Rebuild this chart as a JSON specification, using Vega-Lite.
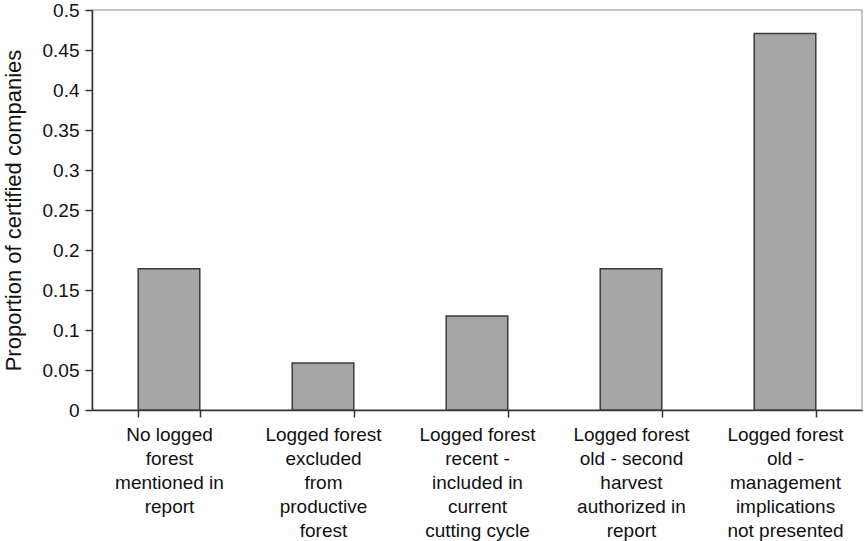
{
  "$schema": "https://vega.github.io/schema/vega-lite/v6.json",
  "width": 770,
  "height": 400,
  "autosize": "none",
  "padding": {"left": 92, "top": 10, "right": 2, "bottom": 131},
  "background": "white",
  "config": {
    "font": "Liberation Sans",
    "view": {"stroke": "#b3b3b3", "strokeWidth": 1.5}
  },
  "data": {
    "values": [
      {"category": "No logged|forest|mentioned in|report", "proportion": 0.1765, "order": 1},
      {"category": "Logged forest|excluded|from|productive|forest", "proportion": 0.0588, "order": 2},
      {"category": "Logged forest|recent -|included in|current|cutting cycle", "proportion": 0.1176, "order": 3},
      {"category": "Logged forest|old - second|harvest|authorized in|report", "proportion": 0.1765, "order": 4},
      {"category": "Logged forest|old -|management|implications|not presented", "proportion": 0.4706, "order": 5}
    ]
  },
  "mark": {"type": "bar", "fill": "#a6a6a6", "stroke": "#3c3c3c", "strokeWidth": 1.5},
  "encoding": {
    "x": {
      "field": "category",
      "type": "nominal",
      "sort": {"field": "order"},
      "scale": {"paddingInner": 0.6, "paddingOuter": 0.3},
      "axis": {
        "title": null,
        "labelAngle": 0,
        "labelExpr": "split(datum.label, '|')",
        "labelFontSize": 19,
        "labelLineHeight": 24,
        "labelColor": "#111",
        "labelPadding": 8,
        "labelLimit": 200,
        "tickBand": "extent",
        "tickSize": 7,
        "tickColor": "#333",
        "tickWidth": 1.5,
        "domainColor": "#333",
        "domainWidth": 1.5
      }
    },
    "y": {
      "field": "proportion",
      "type": "quantitative",
      "scale": {"domain": [0, 0.5]},
      "axis": {
        "title": "Proportion of certified companies",
        "titleFontSize": 22,
        "titleFontWeight": "normal",
        "titleColor": "#111",
        "titlePadding": 17,
        "values": [0, 0.05, 0.1, 0.15, 0.2, 0.25, 0.3, 0.35, 0.4, 0.45, 0.5],
        "format": ".2~f",
        "labelFontSize": 19,
        "labelColor": "#111",
        "labelPadding": 6,
        "tickSize": 7,
        "tickColor": "#333",
        "tickWidth": 1.5,
        "domainColor": "#333",
        "domainWidth": 1.5,
        "grid": false
      }
    }
  }
}
